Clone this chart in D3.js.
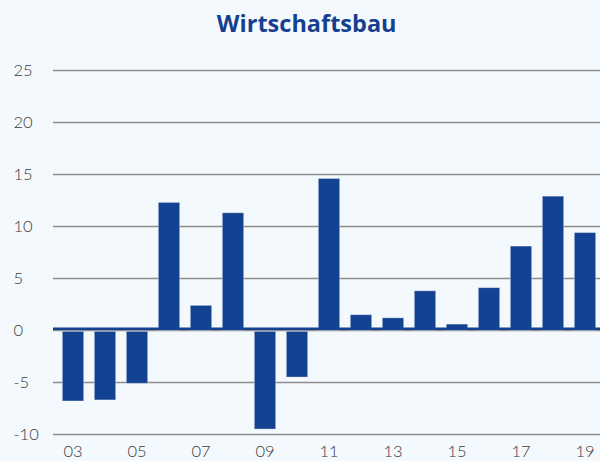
<!DOCTYPE html>
<html>
<head>
<meta charset="utf-8">
<script src="https://cdn.jsdelivr.net/npm/d3@7"></script>
<style>
  html, body { margin: 0; padding: 0; background: #f4f9fd; }
  svg { display: block; }
</style>
</head>
<body>
<div id="chart"></div>
<script>
const years = ['03', '04', '05', '06', '07', '08', '09', '10', '11', '12', '13', '14', '15', '16', '17', '18', '19'];
const values = [-6.7, -6.6, -5.0, 12.3, 2.4, 11.3, -9.4, -4.4, 14.6, 1.5, 1.2, 3.8, 0.6, 4.1, 8.1, 12.9, 9.4];
const yTicks = [-10, -5, 0, 5, 10, 15, 20, 25];
const xTickLabels = ['03', '05', '07', '09', '11', '13', '15', '17', '19'];
const title = 'Wirtschaftsbau';

const width = 600;
const height = 461;
const barColor = '#144293';
const textFont = 'Lato, "Open Sans", sans-serif';

const svg = d3.select('#chart').append('svg').attr('width', width).attr('height', height);
svg.append('rect').attr('width', width).attr('height', height).attr('fill', '#f4f9fd');

const x = d3.scaleBand().domain(years).range([57, 601]).paddingInner(0.33).paddingOuter(0.165);
const y = d3.scaleLinear().domain([-10, 25]).range([434.3, 70.3]);

// horizontal grid
const gy = svg.append('g');
gy.selectAll('line')
  .data(yTicks)
  .enter()
  .append('line')
  .attr('x1', 53)
  .attr('x2', width)
  .attr('y1', (d) => Math.round(y(d)) + 0.5)
  .attr('y2', (d) => Math.round(y(d)) + 0.5)
  .attr('stroke', '#8e8e8e')
  .attr('stroke-width', 1.3);

gy.selectAll('text')
  .data(yTicks)
  .enter()
  .append('text')
  .attr('x', 13.5)
  .attr('y', (d) => y(d))
  .attr('dy', '0.36em')
  .attr('fill', '#3a3a3a')
  .style('font-family', textFont)
  .style('font-weight', 300)
  .style('font-size', '16.5px')
  .text((d) => d);

// bars
svg.append('g')
  .selectAll('rect')
  .data(values)
  .enter()
  .append('rect')
  .attr('x', (d, i) => x(years[i]))
  .attr('width', x.bandwidth())
  .attr('y', (d) => (d >= 0 ? y(d) : y(0) + 1))
  .attr('height', (d) => Math.abs(y(d) - y(0)))
  .attr('fill', barColor)
  .attr('stroke', 'rgba(255,255,255,0.45)')
  .attr('stroke-width', 0.8);

// zero baseline
svg.append('line')
  .attr('x1', 53)
  .attr('x2', width)
  .attr('y1', y(0) - 1.5)
  .attr('y2', y(0) - 1.5)
  .attr('stroke', barColor)
  .attr('stroke-width', 2.5);

// x labels
const xAxis = d3.axisBottom(x).tickValues(xTickLabels).tickSize(0).tickPadding(0);
const gx = svg.append('g').attr('transform', 'translate(0, 441)').call(xAxis);
gx.select('.domain').remove();
gx.selectAll('text')
  .attr('fill', '#3a3a3a')
  .attr('dy', '0.95em')
  .style('font-family', textFont)
  .style('font-weight', 300)
  .style('font-size', '16.5px');

// title
svg.append('text')
  .attr('x', 306.7)
  .attr('y', 32.3)
  .attr('text-anchor', 'middle')
  .attr('fill', '#173f8f')
  .style('font-family', '"Open Sans", Lato, sans-serif')
  .style('font-weight', 700)
  .style('font-size', '23.5px')
  .text(title);
</script>
</body>
</html>
